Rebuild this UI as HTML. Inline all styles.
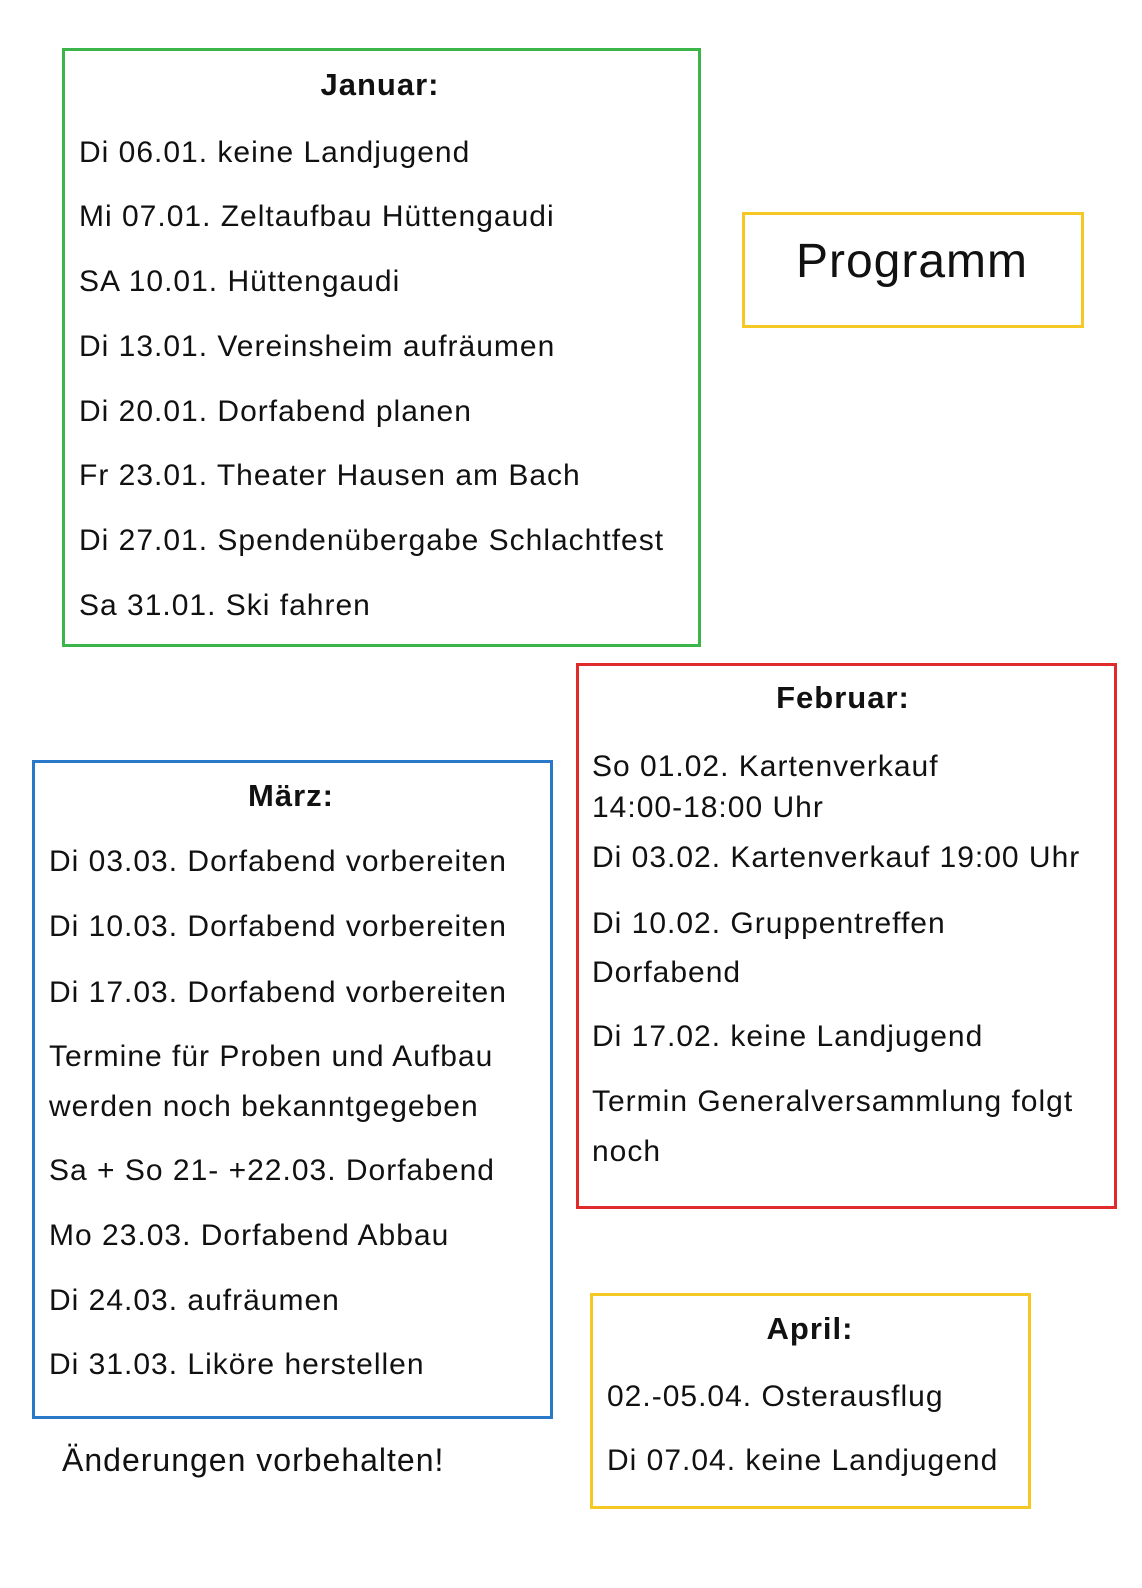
<!DOCTYPE html>
<html><head><meta charset="utf-8"><style>
html,body{margin:0;padding:0;background:#fff;}
body{width:1142px;height:1588px;position:relative;overflow:hidden;font-family:"Liberation Sans",sans-serif;color:#111;}
.box{position:absolute;border:3px solid;box-sizing:border-box;}
.t{position:absolute;font-size:30px;letter-spacing:1px;line-height:36px;white-space:nowrap;}
.h{position:absolute;font-size:31px;letter-spacing:1px;line-height:36px;font-weight:bold;white-space:nowrap;transform:translateX(-50%);}
</style></head><body>
<div class="box" style="left:62px;top:48px;width:639px;height:599px;border-color:#3bb54a"></div>
<div class="h" style="left:380px;top:67px">Januar:</div>
<div class="t" style="left:79px;top:135px">Di 06.01. keine Landjugend</div>
<div class="t" style="left:79px;top:199px">Mi 07.01. Zeltaufbau Hüttengaudi</div>
<div class="t" style="left:79px;top:264px">SA 10.01. Hüttengaudi</div>
<div class="t" style="left:79px;top:329px">Di 13.01. Vereinsheim aufräumen</div>
<div class="t" style="left:79px;top:394px">Di 20.01. Dorfabend planen</div>
<div class="t" style="left:79px;top:458px">Fr 23.01. Theater Hausen am Bach</div>
<div class="t" style="left:79px;top:523px">Di 27.01. Spendenübergabe Schlachtfest</div>
<div class="t" style="left:79px;top:588px">Sa 31.01. Ski fahren</div>

<div class="box" style="left:742px;top:212px;width:342px;height:116px;border-color:#f5c823"></div>
<div class="t" style="left:912px;top:236px;font-size:48px;line-height:52px;transform:translateX(-50%)">Programm</div>

<div class="box" style="left:576px;top:663px;width:541px;height:546px;border-color:#e02b2b"></div>
<div class="h" style="left:843px;top:680px">Februar:</div>
<div class="t" style="left:592px;top:749px">So 01.02. Kartenverkauf</div>
<div class="t" style="left:592px;top:790px">14:00-18:00 Uhr</div>
<div class="t" style="left:592px;top:840px">Di 03.02. Kartenverkauf 19:00 Uhr</div>
<div class="t" style="left:592px;top:906px">Di 10.02. Gruppentreffen</div>
<div class="t" style="left:592px;top:955px">Dorfabend</div>
<div class="t" style="left:592px;top:1019px">Di 17.02. keine Landjugend</div>
<div class="t" style="left:592px;top:1084px">Termin Generalversammlung folgt</div>
<div class="t" style="left:592px;top:1134px">noch</div>

<div class="box" style="left:32px;top:760px;width:521px;height:659px;border-color:#2a78c8"></div>
<div class="h" style="left:291px;top:778px">März:</div>
<div class="t" style="left:49px;top:844px">Di 03.03. Dorfabend vorbereiten</div>
<div class="t" style="left:49px;top:909px">Di 10.03. Dorfabend vorbereiten</div>
<div class="t" style="left:49px;top:975px">Di 17.03. Dorfabend vorbereiten</div>
<div class="t" style="left:49px;top:1039px">Termine für Proben und Aufbau</div>
<div class="t" style="left:49px;top:1089px">werden noch bekanntgegeben</div>
<div class="t" style="left:49px;top:1153px">Sa + So 21- +22.03. Dorfabend</div>
<div class="t" style="left:49px;top:1218px">Mo 23.03. Dorfabend Abbau</div>
<div class="t" style="left:49px;top:1283px">Di 24.03. aufräumen</div>
<div class="t" style="left:49px;top:1347px">Di 31.03. Liköre herstellen</div>

<div class="t" style="left:62px;top:1441px;font-size:32px;line-height:38px">Änderungen vorbehalten!</div>

<div class="box" style="left:590px;top:1293px;width:441px;height:216px;border-color:#f5c823"></div>
<div class="h" style="left:810px;top:1311px">April:</div>
<div class="t" style="left:607px;top:1379px">02.-05.04. Osterausflug</div>
<div class="t" style="left:607px;top:1443px">Di 07.04. keine Landjugend</div>
</body></html>
